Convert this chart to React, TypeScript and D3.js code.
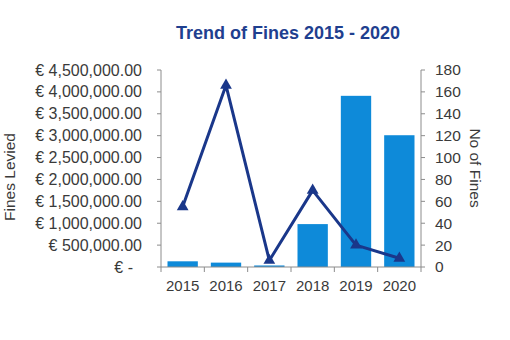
import React from "react";
import * as d3 from "d3";

const years = ["2015", "2016", "2017", "2018", "2019", "2020"];
const finesLevied = [130000, 100000, 35000, 980000, 3910000, 3010000];
const numFines = [55, 166, 6, 70, 20, 8];
const leftTicks = [0, 500000, 1000000, 1500000, 2000000, 2500000, 3000000, 3500000, 4000000, 4500000];
const rightTicks = [0, 20, 40, 60, 80, 100, 120, 140, 160, 180];

const W = 510, H = 340;
const left = 161, right = 421, top = 70, bottom = 267;

const BAR = "#0E8AD9";
const LINE = "#1A378A";
const AXIS = "#8C8C8C";
const TXT = "#3a3a3a";
const FONT = "Liberation Sans, Arial, sans-serif";

export default function App() {
  const x = d3.scaleBand<string>().domain(years).range([left, right]).paddingInner(0.3).paddingOuter(0.15);
  const xb = d3.scaleBand<string>().domain(years).range([left, right]);
  const yL = d3.scaleLinear().domain([0, 4500000]).range([bottom, top]);
  const yR = d3.scaleLinear().domain([0, 180]).range([bottom, top]);
  const fmt = d3.format(",.2f");
  const line = d3
    .line<number>()
    .x((_, i) => (xb(years[i]) as number) + xb.bandwidth() / 2)
    .y((d) => yR(d));
  const tri = d3.symbol().type(d3.symbolTriangle).size(60)();
  const bandEdges = years.map((y) => xb(y) as number).concat([right]);

  return (
    <svg width={W} height={H} style={{ position: "absolute", left: 0, top: 0, background: "#fff" }} fontFamily={FONT}>
      <rect width={W} height={H} fill="#fff" />
      <text x={288} y={39} textAnchor="middle" fontSize={18} fontWeight="bold" fill="#1F3F8F">
        Trend of Fines 2015 - 2020
      </text>

      {/* bars */}
      {years.map((yr, i) => (
        <rect
          key={yr}
          x={x(yr)}
          y={yL(finesLevied[i])}
          width={x.bandwidth()}
          height={bottom - yL(finesLevied[i])}
          fill={BAR}
        />
      ))}

      {/* left axis */}
      <line x1={left} x2={left} y1={top} y2={bottom} stroke={AXIS} />
      {leftTicks.map((t) => (
        <g key={t}>
          <line x1={left - 4} x2={left} y1={yL(t)} y2={yL(t)} stroke={AXIS} />
          <text
            x={t === 0 ? 133 : 142}
            y={yL(t)}
            dy="0.35em"
            textAnchor="end"
            fontSize={16}
            fill={TXT}
          >
            {t === 0 ? "€ -" : "€ " + fmt(t)}
          </text>
        </g>
      ))}

      {/* right axis */}
      <line x1={right} x2={right} y1={top} y2={bottom} stroke={AXIS} />
      {rightTicks.map((t) => (
        <g key={t}>
          <line x1={right} x2={right + 4} y1={yR(t)} y2={yR(t)} stroke={AXIS} />
          <text x={435} y={yR(t)} dy="0.35em" textAnchor="start" fontSize={15.5} fill={TXT}>
            {t}
          </text>
        </g>
      ))}

      {/* bottom axis */}
      <line x1={left} x2={right} y1={bottom} y2={bottom} stroke={AXIS} />
      {bandEdges.map((e, i) => (
        <line key={i} x1={e} x2={e} y1={bottom} y2={bottom + 5} stroke={AXIS} />
      ))}
      {years.map((yr) => (
        <text
          key={yr}
          x={(xb(yr) as number) + xb.bandwidth() / 2}
          y={290.5}
          textAnchor="middle"
          fontSize={15}
          fill={TXT}
        >
          {yr}
        </text>
      ))}

      {/* line series */}
      <path d={line(numFines) || ""} fill="none" stroke={LINE} strokeWidth={3} strokeLinejoin="round" />
      {numFines.map((v, i) => (
        <path
          key={i}
          d={tri || ""}
          transform={`translate(${(xb(years[i]) as number) + xb.bandwidth() / 2},${yR(v)})`}
          fill={LINE}
        />
      ))}

      {/* axis titles */}
      <text transform="translate(15,177) rotate(-90)" textAnchor="middle" fontSize={15.5} fill={TXT}>
        Fines Levied
      </text>
      <text transform="translate(470,168) rotate(90)" textAnchor="middle" fontSize={15.5} fill={TXT}>
        No of Fines
      </text>
    </svg>
  );
}
